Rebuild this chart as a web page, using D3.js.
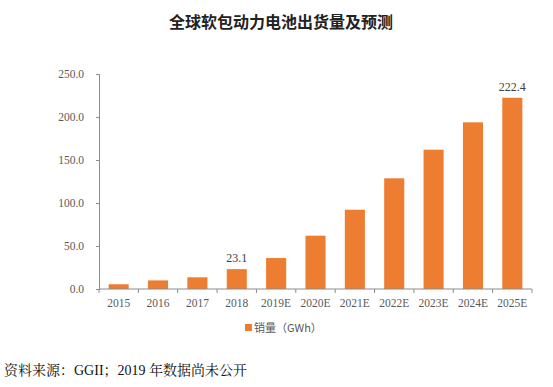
<!DOCTYPE html>
<html><head><meta charset="utf-8">
<script src="https://cdn.jsdelivr.net/npm/d3@7"></script>
<style>body{margin:0;background:#fff}svg{display:block}</style>
</head><body>
<svg id="c" width="553" height="387"></svg>
<script>
const categories = ["2015","2016","2017","2018","2019E","2020E","2021E","2022E","2023E","2024E","2025E"];
const values = [5.5, 10.0, 13.6, 23.1, 36.0, 62.0, 92.2, 128.7, 162.0, 193.8, 222.4];
const labeled = ["2018","2025E"];
const yTicks = [0,50,100,150,200,250];
const title = "全球软包动力电池出货量及预测";
const legendLabel = "销量（GWh）";
const source = "资料来源：GGII；2019 年数据尚未公开";

const svg = d3.select("#c");
const m = {l:99, r:532, t:74, b:289};
const x = d3.scaleBand().domain(categories).range([m.l, m.r]).paddingInner(0.49).paddingOuter(0.245);
const y = d3.scaleLinear().domain([0,250]).range([m.b, m.t]);
const serif = "'Liberation Serif','Times New Roman',serif";
const color = "#ED7D31";

svg.append("text").attr("x",281).attr("y",28).attr("text-anchor","middle")
  .attr("font-family","'Noto Sans CJK SC',sans-serif").attr("font-weight","bold")
  .attr("font-size",16).attr("fill","#222").text(title);

svg.selectAll("rect.bar").data(categories).join("rect").attr("class","bar")
  .attr("x",d=>x(d)).attr("width",x.bandwidth())
  .attr("y",(d,i)=>y(values[i])).attr("height",(d,i)=>y(0)-y(values[i]))
  .attr("fill",color);

// y axis
const ya = svg.append("g").attr("transform",`translate(${m.l},0)`)
  .call(d3.axisLeft(y).tickValues(yTicks).tickFormat(d3.format(".1f")).tickSize(3).tickPadding(12));
ya.select(".domain").attr("stroke","#8c8c8c");
ya.selectAll(".tick line").attr("stroke","#8c8c8c");
ya.selectAll("text").attr("font-family",serif).attr("font-size",11.5).attr("fill","#595959");

// x axis
const xa = svg.append("g").attr("transform",`translate(0,${m.b})`);
xa.append("line").attr("x1",m.l).attr("x2",m.r).attr("stroke","#8c8c8c");
const step = x.step();
const bounds = categories.map(c => x(c) - (step - x.bandwidth())/2).concat([m.r]);
xa.selectAll("line.t").data(bounds).join("line").attr("class","t")
  .attr("x1",d=>d).attr("x2",d=>d).attr("y1",0).attr("y2",4).attr("stroke","#8c8c8c");
xa.selectAll("text").data(categories).join("text")
  .attr("x",d=>x(d)+x.bandwidth()/2).attr("y",18).attr("text-anchor","middle")
  .attr("font-family",serif).attr("font-size",11.5).attr("fill","#595959").text(d=>d);

// labels
svg.selectAll("text.lab").data(categories.filter(c=>labeled.includes(c))).join("text").attr("class","lab")
  .attr("x",d=>x(d)+x.bandwidth()/2).attr("y",d=>y(values[categories.indexOf(d)])-7)
  .attr("text-anchor","middle").attr("font-family",serif).attr("font-size",12).attr("fill","#404040")
  .text(d=>values[categories.indexOf(d)].toFixed(1));

// legend
svg.append("rect").attr("x",245).attr("y",324).attr("width",7).attr("height",7).attr("fill",color);
svg.append("text").attr("x",254).attr("y",332).attr("font-family","'Noto Sans CJK SC',sans-serif")
  .attr("font-size",11).attr("fill","#595959").text(legendLabel);

// source
svg.append("text").attr("x",4).attr("y",375).attr("font-family","'Liberation Serif','Noto Serif CJK SC','Noto Sans CJK SC',serif")
  .attr("font-size",14).attr("fill","#111").text(source);
</script>
</body></html>
